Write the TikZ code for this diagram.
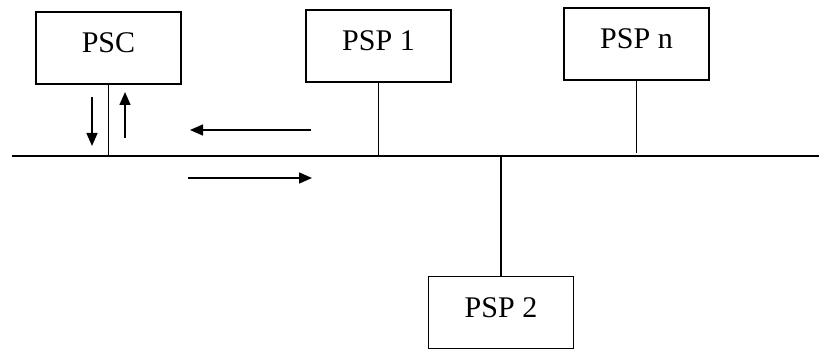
\documentclass[tikz,border=0pt]{standalone}
\usepackage{fontspec}
\setmainfont{Liberation Serif}
\usetikzlibrary{arrows.meta}
\begin{document}
\begin{tikzpicture}[x=1pt,y=-1pt,
  box/.style={draw,line width=1.4pt,minimum width=145pt,minimum height=72pt,inner sep=0pt,text height=20pt,text depth=10pt,font=\fontsize{30}{36}\selectfont},
  wire/.style={line width=1.4pt},
  arr/.style={line width=1.4pt,-{Triangle[length=13pt,width=11pt]}}]
\useasboundingbox (0,0) rectangle (819,350);
\node[box] (psc) at (108.5,48) {PSC};
\node[box] (psp1) at (378.5,46) {PSP 1};
\node[box] (pspn) at (636.5,44) {PSP n};
\node[box] (psp2) at (501,312.5) {PSP 2};
\coordinate (busL) at (12,156);
\coordinate (busR) at (819,156);
\draw[wire] (busL) -- (busR);
\coordinate (j0) at (psc.south |- busL);
\coordinate (j1) at (psp1.south |- busL);
\coordinate (jn) at ([yshift=3pt]pspn.south |- busL);
\coordinate (j2) at (psp2.north |- busL);
\draw[wire] (psc.south) -- (j0);
\draw[wire] (psp1.south) -- (j1);
\draw[wire] (pspn.south) -- (jn);
\draw[wire] (psp2.north) -- (j2);
\coordinate (d1) at (92,97);
\coordinate (d2) at (92,146);
\draw[arr] (d1) -- (d2);
\coordinate (u1) at (125,138);
\coordinate (u2) at (125,92);
\draw[arr] (u1) -- (u2);
\coordinate (l1) at (311,130);
\coordinate (l2) at (190,130);
\draw[arr] (l1) -- (l2);
\coordinate (r1) at (188,178);
\coordinate (r2) at (312,178);
\draw[arr] (r1) -- (r2);
\end{tikzpicture}
\end{document}
